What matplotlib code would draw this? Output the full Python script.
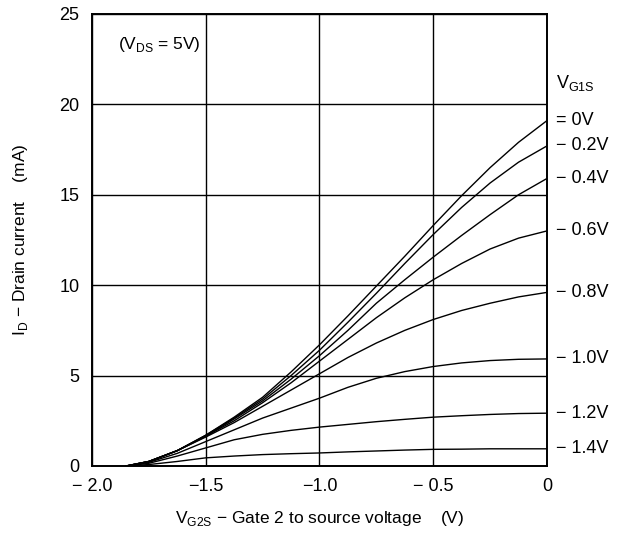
#!/usr/bin/env python3
"""Drain current vs gate-2 voltage for several gate-1 biases (VDS = 5 V)."""

import matplotlib

matplotlib.use("Agg")
import matplotlib.pyplot as plt

plt.rcParams["font.family"] = ["Liberation Sans", "DejaVu Sans"]
plt.rcParams["mathtext.fontset"] = "custom"
plt.rcParams["mathtext.rm"] = "Liberation Sans"

# gate 2 voltage samples (V)
VG2S = [-1.85, -1.75, -1.625, -1.5, -1.375, -1.25, -1.125, -1.0,
        -0.875, -0.75, -0.625, -0.5, -0.375, -0.25, -0.125, 0.0]

# drain current (mA), one list per gate 1 bias
ID_0V = [0, 0.25, 0.85, 1.7, 2.7, 3.8, 5.2, 6.7, 8.3, 9.95, 11.6, 13.3, 14.95, 16.5, 17.9, 19.1]
ID_02V = [0, 0.25, 0.85, 1.7, 2.65, 3.7, 5.0, 6.4, 7.95, 9.55, 11.2, 12.8, 14.3, 15.65, 16.8, 17.7]
ID_04V = [0, 0.25, 0.85, 1.65, 2.6, 3.6, 4.8, 6.1, 7.5, 9.0, 10.3, 11.55, 12.75, 13.9, 15.0, 15.9]
ID_06V = [0, 0.25, 0.85, 1.65, 2.5, 3.5, 4.6, 5.8, 7.0, 8.2, 9.3, 10.3, 11.2, 12.0, 12.6, 13.0]
ID_08V = [0, 0.25, 0.85, 1.6, 2.4, 3.3, 4.2, 5.1, 6.0, 6.8, 7.5, 8.1, 8.6, 9.0, 9.35, 9.6]
ID_10V = [0, 0.2, 0.7, 1.35, 2.0, 2.65, 3.2, 3.75, 4.35, 4.85, 5.22, 5.5, 5.7, 5.83, 5.9, 5.92]
ID_12V = [0, 0.15, 0.55, 1.0, 1.45, 1.75, 1.97, 2.15, 2.3, 2.45, 2.58, 2.7, 2.78, 2.85, 2.9, 2.92]
ID_14V = [0, 0.08, 0.25, 0.45, 0.55, 0.63, 0.68, 0.72, 0.78, 0.83, 0.88, 0.92, 0.93, 0.95, 0.95, 0.95]

CURVES = [ID_0V, ID_02V, ID_04V, ID_06V, ID_08V, ID_10V, ID_12V, ID_14V]
CURVE_LABELS = ["= 0V", "\u2212 0.2V", "\u2212 0.4V", "\u2212 0.6V",
                "\u2212 0.8V", "\u2212 1.0V", "\u2212 1.2V", "\u2212 1.4V"]

X_TICKS = [-2.0, -1.5, -1.0, -0.5, 0.0]
X_TICK_LABELS = ["\u2212 2.0", "\u22121.5", "\u22121.0", "\u2212 0.5", "0"]
Y_TICKS = [0, 5, 10, 15, 20, 25]


def main() -> None:
    fig = plt.figure(figsize=(6.28, 5.35), dpi=100)
    ax = fig.add_axes([0.1465, 0.129, 0.7245, 0.845])

    for vals in CURVES:
        ax.plot(VG2S, vals, color="black", lw=1.0)

    ax.set_xlim(-2.0, 0.0)
    ax.set_ylim(0, 25)
    ax.set_xticks(X_TICKS)
    ax.set_xticklabels(X_TICK_LABELS)
    ax.set_yticks(Y_TICKS)
    ax.tick_params(length=0, labelsize=13, pad=9)
    ax.grid(True, color="black", lw=1.0)
    for spine in ax.spines.values():
        spine.set_linewidth(1.4)

    ax.text(-1.885, 23.3, "(V$_{\\rm DS}$ = 5V)", fontsize=12.5, va="center", ha="left")

    ax.text(1.02, 21.2, "V$_{\\rm G1S}$", fontsize=13, va="center", ha="left",
            transform=ax.get_yaxis_transform())
    for vals, lab in zip(CURVES, CURVE_LABELS):
        ax.text(1.02, vals[-1], lab, fontsize=13, va="center", ha="left",
                transform=ax.get_yaxis_transform())

    ax.set_xlabel("V$_{\\rm G2S}$ \u2212 Gate 2 to source voltage    (V)", fontsize=12.5, labelpad=10)
    ax.set_ylabel("I$_{\\rm D}$ \u2212 Drain current    (mA)", fontsize=12.5, labelpad=21)

    fig.savefig("out.png", dpi=100)
    plt.close(fig)


if __name__ == "__main__":
    main()
